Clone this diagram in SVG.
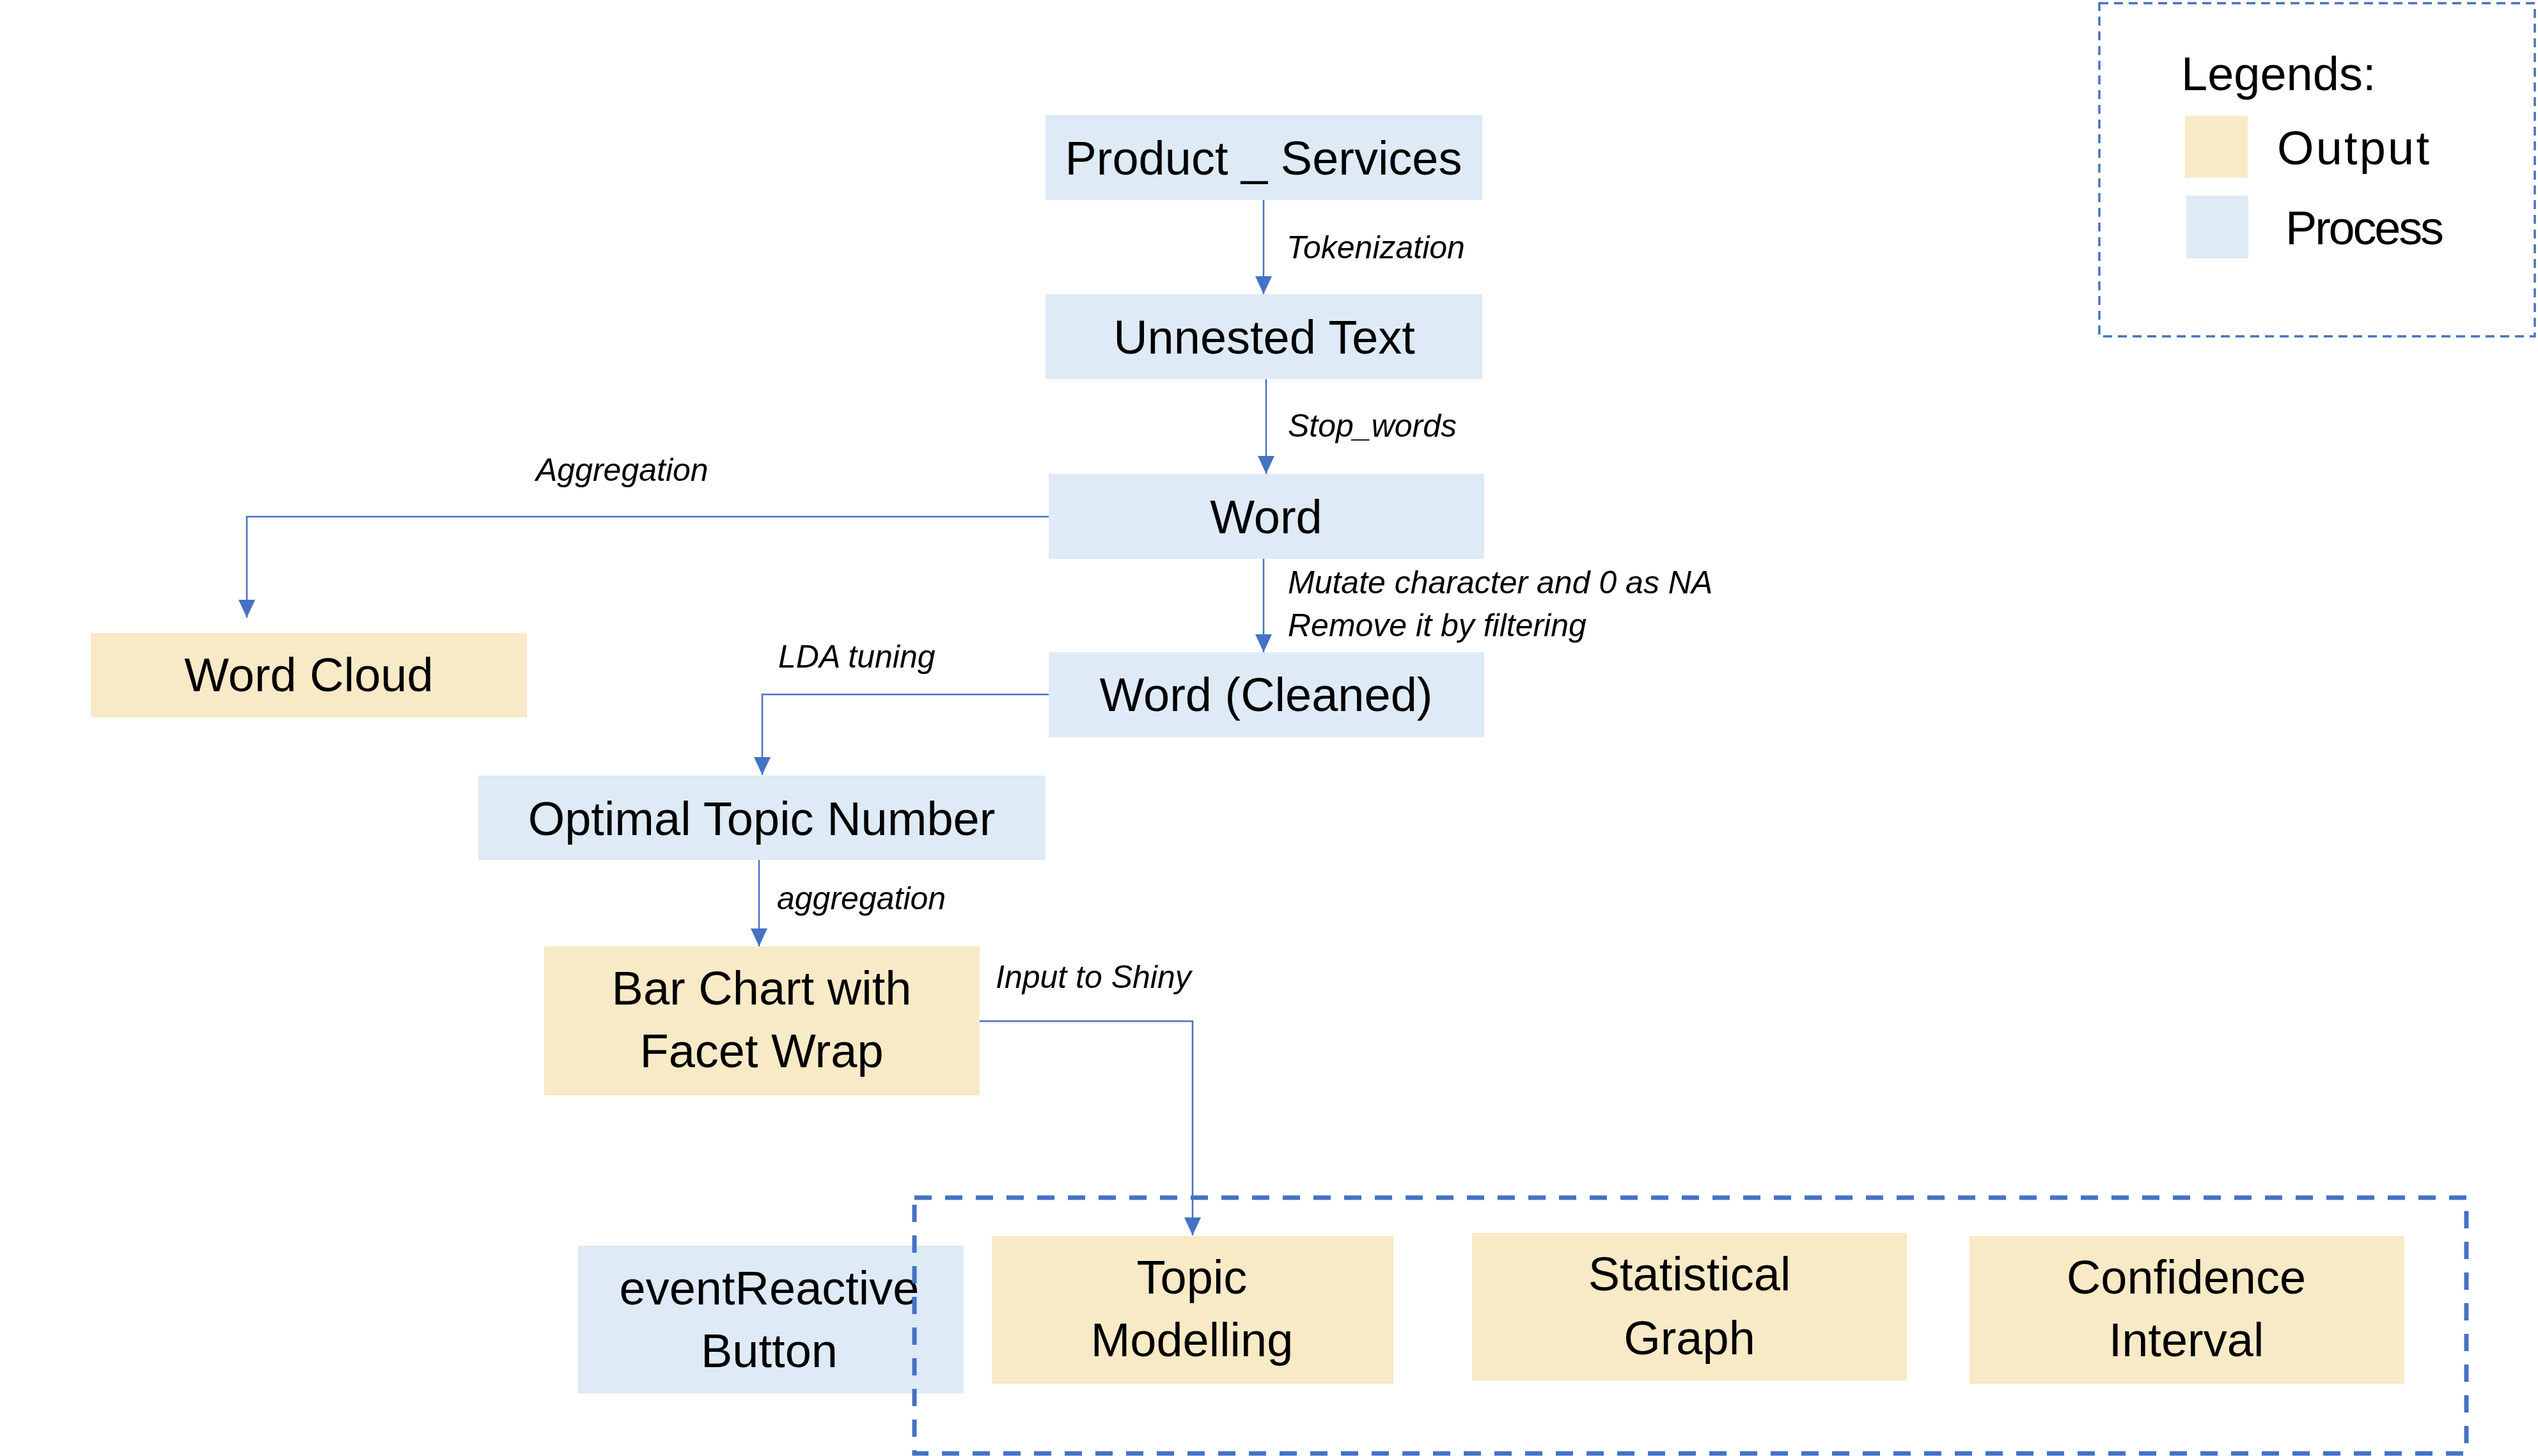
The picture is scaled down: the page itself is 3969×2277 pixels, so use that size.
<svg xmlns="http://www.w3.org/2000/svg" width="3969" height="2277" viewBox="0 0 3969 2277">
<defs>
<style>
.proc{fill:#DEEAF6}
.out{fill:#F8EAC6}
.lbl{font-family:"Liberation Sans",Arial,sans-serif;font-size:74px;fill:#000;text-anchor:middle}
.lgd{font-family:"Liberation Sans",Arial,sans-serif;font-size:74px;fill:#000}
.edge{font-family:"Liberation Sans",Arial,sans-serif;font-size:50px;font-style:italic;fill:#000}
.conn{fill:none;stroke:#4472C4;stroke-width:2.5}
</style>
<marker id="arr" markerUnits="userSpaceOnUse" markerWidth="28" markerHeight="28" viewBox="0 0 28 28" refX="28" refY="14" orient="auto">
<path d="M0,1 L28,14 L0,27 Z" fill="#4472C4"/>
</marker>
</defs>
<rect width="3969" height="2277" fill="#fff"/>

<g id="legend">
<rect x="3283" y="5" width="681" height="521" fill="none" stroke="#4472C4" stroke-width="3.5" stroke-dasharray="14 9"/>
<text class="lgd" x="3411" y="141">Legends:</text>
<rect class="out" x="3417" y="181" width="98" height="97"/>
<text class="lgd" x="3561" y="257" textLength="238">Output</text>
<rect class="proc" x="3419" y="306" width="97" height="98"/>
<text class="lgd" x="3574" y="382" textLength="248">Process</text>
</g>

<g id="connectors">
<path class="conn" d="M1976,313 V460" marker-end="url(#arr)"/>
<path class="conn" d="M1980,593 V741" marker-end="url(#arr)"/>
<path class="conn" d="M1976,874 V1020" marker-end="url(#arr)"/>
<path class="conn" d="M1640,808 H386 V966" marker-end="url(#arr)"/>
<path class="conn" d="M1640,1086 H1192 V1212" marker-end="url(#arr)"/>
<path class="conn" d="M1187,1345 V1480" marker-end="url(#arr)"/>
<path class="conn" d="M1532,1597 H1865 V1932" marker-end="url(#arr)"/>
<text class="edge" x="2012" y="404">Tokenization</text>
<text class="edge" x="2014" y="683">Stop_words</text>
<text class="edge" x="2014" y="928">Mutate character and 0 as NA</text>
<text class="edge" x="2014" y="995">Remove it by filtering</text>
<text class="edge" x="838" y="752">Aggregation</text>
<text class="edge" x="1217" y="1044">LDA tuning</text>
<text class="edge" x="1215" y="1422">aggregation</text>
<text class="edge" x="1557" y="1545">Input to Shiny</text>
</g>

<g id="product_services">
<rect class="proc" x="1635" y="180" width="683" height="133"/>
<text class="lbl" x="1976" y="273">Product _ Services</text>
</g>
<g id="unnested_text">
<rect class="proc" x="1635" y="460" width="683" height="133"/>
<text class="lbl" x="1977" y="553">Unnested Text</text>
</g>
<g id="word">
<rect class="proc" x="1640" y="741" width="681" height="133"/>
<text class="lbl" x="1980" y="834">Word</text>
</g>
<g id="word_cleaned">
<rect class="proc" x="1640" y="1020" width="681" height="133"/>
<text class="lbl" x="1980" y="1112">Word (Cleaned)</text>
</g>
<g id="word_cloud">
<rect class="out" x="142" y="990" width="682" height="132"/>
<text class="lbl" x="483" y="1081">Word Cloud</text>
</g>
<g id="optimal_topic_number">
<rect class="proc" x="748" y="1213" width="887" height="132"/>
<text class="lbl" x="1191" y="1306">Optimal Topic Number</text>
</g>
<g id="bar_chart">
<rect class="out" x="851" y="1480" width="681" height="233"/>
<text class="lbl" x="1191" y="1571">Bar Chart with</text>
<text class="lbl" x="1191" y="1669">Facet Wrap</text>
</g>
<g id="event_reactive">
<rect class="proc" x="904" y="1948" width="603" height="231"/>
<text class="lbl" x="1203" y="2040">eventReactive</text>
<text class="lbl" x="1203" y="2138">Button</text>
</g>
<g id="topic_modelling">
<rect class="out" x="1551" y="1933" width="628" height="231"/>
<text class="lbl" x="1864" y="2023">Topic</text>
<text class="lbl" x="1864" y="2121">Modelling</text>
</g>
<g id="statistical_graph">
<rect class="out" x="2302" y="1928" width="680" height="231"/>
<text class="lbl" x="2642" y="2018">Statistical</text>
<text class="lbl" x="2642" y="2118">Graph</text>
</g>
<g id="confidence_interval">
<rect class="out" x="3080" y="1933" width="680" height="231"/>
<text class="lbl" x="3419" y="2023">Confidence</text>
<text class="lbl" x="3419" y="2121">Interval</text>
</g>

<g id="shiny_container">
<rect x="1430" y="1873" width="2427" height="400" fill="none" stroke="#4472C4" stroke-width="7" stroke-dasharray="27 21"/>
</g>
</svg>
